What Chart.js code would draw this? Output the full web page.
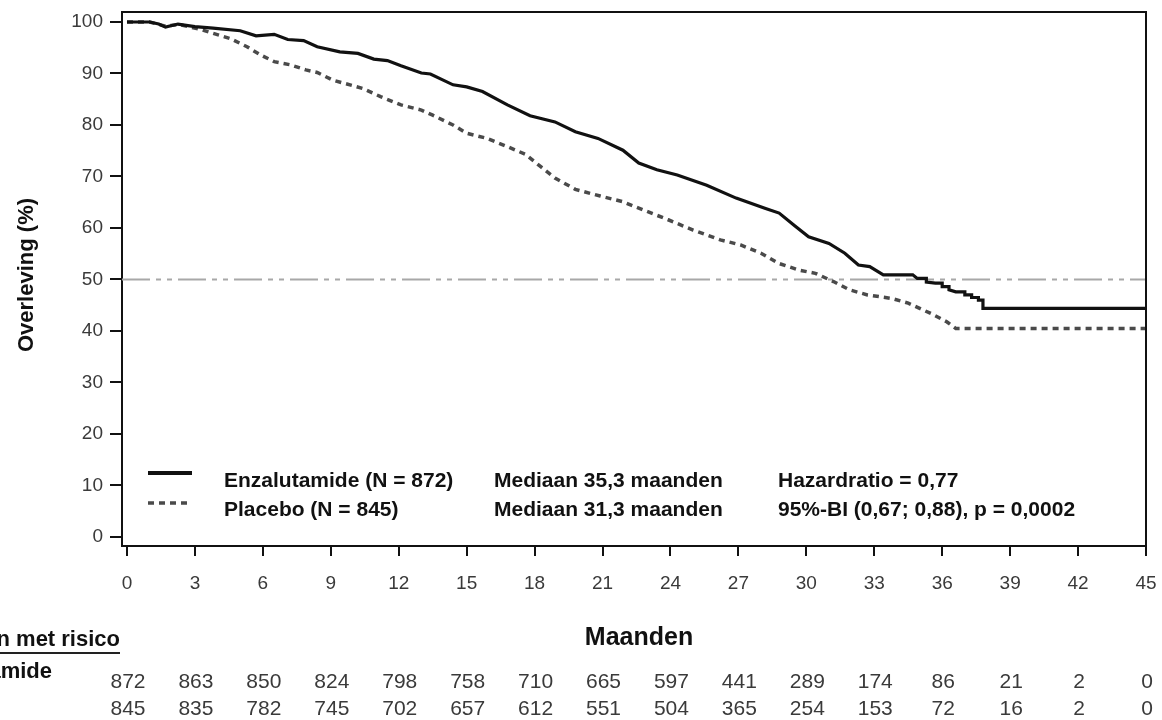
<!DOCTYPE html>
<html>
<head>
<meta charset="utf-8">
<title>Overleving</title>
<script src="https://cdn.jsdelivr.net/npm/chart.js@4.4.1/dist/chart.umd.min.js"></script>
<style>
  html, body { margin: 0; padding: 0; background: #fff; }
  canvas { display: block; }
</style>
</head>
<body>
<canvas id="km" width="1162" height="720"></canvas>
<script>
const ctx = document.querySelector('#km');

// x / y tick labels
const monthTicks = [0, 3, 6, 9, 12, 15, 18, 21, 24, 27, 30, 33, 36, 39, 42, 45];
const pctTicks = [0, 10, 20, 30, 40, 50, 60, 70, 80, 90, 100];

// Enzalutamide curve (months, % survival)
const enzMonths = [0, 1.0, 1.4, 1.7, 2.25, 3.0, 3.8, 5.0, 5.7, 6.5, 7.1, 7.8, 8.4, 9.4, 10.2, 10.9,
  11.5, 12.1, 13.0, 13.4, 14.4, 15.0, 15.7, 16.8, 17.8, 18.9, 19.8, 20.8, 21.9, 22.6, 23.4, 24.3,
  25.6, 26.9, 28.2, 28.8, 29.5, 30.1, 31.0, 31.7, 32.3, 32.8, 33.4, 34.7, 34.9, 35.3, 35.3, 35.7,
  36.0, 36.0, 36.3, 36.3, 36.6, 37.0, 37.0, 37.3, 37.3, 37.6, 37.6, 37.8, 37.8, 45];
const enzSurvival = [100, 100, 99.6, 99.0, 99.6, 99.1, 98.8, 98.3, 97.3, 97.6, 96.6, 96.4, 95.2, 94.2, 93.9, 92.8,
  92.5, 91.5, 90.1, 89.9, 87.8, 87.4, 86.5, 83.9, 81.8, 80.6, 78.7, 77.4, 75.1, 72.6, 71.3, 70.3,
  68.3, 65.8, 63.8, 62.9, 60.4, 58.3, 57.0, 55.1, 52.8, 52.5, 50.9, 50.9, 50.2, 50.2, 49.5, 49.3,
  49.3, 48.6, 48.6, 48.0, 47.6, 47.6, 47.0, 47.0, 46.5, 46.5, 46.0, 46.0, 44.4, 44.4];

// Placebo curve
const pboMonths = [0, 1.0, 1.7, 2.3, 3.2, 3.8, 4.55, 5.3, 5.9, 6.5, 7.2, 7.9, 8.4, 9.1, 10.0, 10.4,
  11.2, 12.1, 13.0, 13.5, 14.4, 15.0, 15.9, 16.8, 17.6, 18.3, 18.9, 19.8, 20.9, 21.9, 22.8, 23.9,
  25.0, 26.2, 27.1, 28.0, 28.8, 29.7, 30.4, 31.2, 31.9, 32.7, 33.8, 34.5, 35.5, 36.2, 36.6, 45];
const pboSurvival = [100, 100, 99.2, 99.5, 98.6, 97.8, 96.8, 95.2, 93.6, 92.3, 91.7, 90.7, 90.2, 88.7, 87.6, 87.1,
  85.5, 83.9, 82.9, 81.9, 80.0, 78.4, 77.4, 75.8, 74.3, 71.8, 69.7, 67.5, 66.2, 65.1, 63.5, 61.6,
  59.6, 57.7, 56.7, 55.1, 53.1, 51.8, 51.2, 49.6, 48.0, 47.0, 46.3, 45.4, 43.4, 41.8, 40.5, 40.5];

// patients at risk at each month tick
const riskEnz = [872, 863, 850, 824, 798, 758, 710, 665, 597, 441, 289, 174, 86, 21, 2, 0];
const riskPbo = [845, 835, 782, 745, 702, 657, 612, 551, 504, 365, 254, 153, 72, 16, 2, 0];

const legendRows = [
  ['Enzalutamide (N = 872)', 'Mediaan 35,3 maanden', 'Hazardratio = 0,77'],
  ['Placebo (N = 845)', 'Mediaan 31,3 maanden', '95%-BI (0,67; 0,88), p = 0,0002'],
];

const X_MIN = -0.22;
const FONT = '"Liberation Sans", Arial, sans-serif';
const DASH = [6, 5];
const REF_DASH = [28, 6, 5, 6, 5, 6];

function toPoints(xs, ys) {
  return xs.map((m, i) => ({ x: m, y: ys[i] }));
}

const kmText = {
  id: 'kmText',
  afterDraw(chart) {
    const c = chart.ctx;
    const a = chart.chartArea;
    const xs = chart.scales.x;
    c.save();

    // top and right frame
    c.strokeStyle = '#111';
    c.lineWidth = 2;
    c.beginPath();
    c.moveTo(a.left, a.top);
    c.lineTo(a.right, a.top);
    c.lineTo(a.right, a.bottom);
    c.stroke();

    // legend samples
    c.lineWidth = 4;
    c.strokeStyle = '#111';
    c.beginPath();
    c.moveTo(148, 473);
    c.lineTo(192, 473);
    c.stroke();
    c.lineWidth = 3.5;
    c.strokeStyle = '#4a4a4a';
    c.setLineDash(DASH);
    c.beginPath();
    c.moveTo(148, 503);
    c.lineTo(192, 503);
    c.stroke();
    c.setLineDash([]);

    // legend text
    c.fillStyle = '#111';
    c.textBaseline = 'middle';
    c.textAlign = 'left';
    c.font = 'bold 21px ' + FONT;
    const cols = [224, 494, 778];
    legendRows.forEach((row, r) => {
      row.forEach((t, i) => c.fillText(t, cols[i], 481 + r * 29));
    });

    // y title
    c.save();
    c.translate(27, 275);
    c.rotate(-Math.PI / 2);
    c.textAlign = 'center';
    c.font = 'bold 22px ' + FONT;
    c.fillText('Overleving (%)', 0, 0);
    c.restore();

    // x title
    c.textAlign = 'center';
    c.font = 'bold 25px ' + FONT;
    c.fillText('Maanden', 639, 638);

    // risk table header, cut off at the left edge like the original
    c.font = 'bold 22px ' + FONT;
    c.textAlign = 'right';
    const head = 'Patiënten met risico';
    c.fillText(head, 120, 640);
    const hw = c.measureText(head).width;
    c.lineWidth = 2;
    c.strokeStyle = '#222';
    c.beginPath();
    c.moveTo(120 - hw, 653);
    c.lineTo(120, 653);
    c.stroke();

    c.textAlign = 'left';
    const lx = 52 - c.measureText('Enzalutamide').width;
    c.fillText('Enzalutamide', lx, 672);
    c.fillText('Placebo', lx, 700);

    // numbers at risk
    c.font = '21px ' + FONT;
    c.fillStyle = '#3a3a3a';
    c.textAlign = 'center';
    monthTicks.forEach((m, i) => {
      const px = xs.getPixelForValue(m) + 1;
      c.fillText(String(riskEnz[i]), px, 682);
      c.fillText(String(riskPbo[i]), px, 709);
    });

    c.restore();
  },
};

new Chart(ctx, {
  type: 'line',
  data: {
    datasets: [
      {
        label: 'Enzalutamide',
        data: toPoints(enzMonths, enzSurvival),
        borderColor: '#111',
        borderWidth: 3.2,
        pointRadius: 0,
        fill: false,
        order: 0,
      },
      {
        label: 'Placebo',
        data: toPoints(pboMonths, pboSurvival),
        borderColor: '#4a4a4a',
        borderWidth: 3.5,
        borderDash: DASH,
        pointRadius: 0,
        fill: false,
        order: 1,
      },
      {
        label: '50%',
        data: [{ x: X_MIN, y: 50 }, { x: 45, y: 50 }],
        borderColor: '#a8a8a8',
        borderWidth: 2,
        borderDash: REF_DASH,
        pointRadius: 0,
        fill: false,
        order: 2,
      },
    ],
  },
  options: {
    responsive: false,
    animation: false,
    devicePixelRatio: 1,
    layout: { padding: { top: 12, right: 16, left: 0, bottom: 0 } },
    plugins: { legend: { display: false }, tooltip: { enabled: false } },
    scales: {
      x: {
        type: 'linear',
        min: X_MIN,
        max: 45,
        afterFit: (s) => { s.height = 174; s.paddingLeft = 0; s.paddingRight = 0; },
        afterBuildTicks: (s) => { s.ticks = monthTicks.map((v) => ({ value: v })); },
        border: { display: true, color: '#111', width: 2 },
        grid: { drawOnChartArea: false, drawTicks: true, tickLength: 10, color: '#111', lineWidth: 2 },
        ticks: { color: '#3a3a3a', font: { family: FONT, size: 19 }, padding: 16, maxRotation: 0, autoSkip: false },
      },
      y: {
        type: 'linear',
        min: -1.75,
        max: 101.94,
        afterFit: (s) => { s.width = 122; s.paddingTop = 0; s.paddingBottom = 0; },
        afterBuildTicks: (s) => { s.ticks = pctTicks.map((v) => ({ value: v })); },
        border: { display: true, color: '#111', width: 2 },
        grid: { drawOnChartArea: false, drawTicks: true, tickLength: 12, color: '#111', lineWidth: 2 },
        ticks: { color: '#3a3a3a', font: { family: FONT, size: 19 }, padding: 7, autoSkip: false },
      },
    },
  },
  plugins: [kmText],
});
</script>
</body>
</html>
